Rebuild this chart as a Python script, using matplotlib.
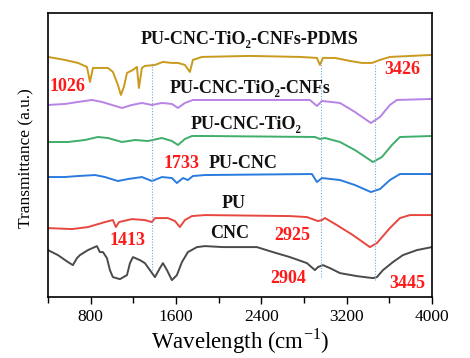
import matplotlib
matplotlib.use("Agg")
import matplotlib.pyplot as plt
from matplotlib.ticker import MultipleLocator

plt.rcParams['font.family'] = ['Liberation Serif', 'DejaVu Serif']
plt.rcParams['mathtext.fontset'] = 'custom'
plt.rcParams['mathtext.rm'] = 'Liberation Serif'

# spectra (wavenumber, transmittance in a.u. with stacking offset)
pdms_x = [400, 559, 681, 766, 794, 822, 869, 962, 1009, 1056, 1084, 1112, 1141, 1197, 1234,
          1253, 1281, 1309, 1403, 1478, 1562, 1619, 1684, 1731, 1759, 1844, 2294, 2762, 2922,
          2950, 2978, 3091, 3231, 3344, 3438, 3512, 3606, 4000]
pdms_y = [243, 240, 237, 233, 218, 232, 232, 232, 228, 215, 205, 213, 227, 230, 233,
          212, 232, 234, 235, 238, 237, 237, 235, 228, 240, 243, 244, 243, 242,
          235, 242, 242, 239, 237, 237, 240, 243, 245]

cnfs_x = [400, 559, 681, 812, 906, 1000, 1094, 1187, 1281, 1375, 1469, 1562, 1619, 1684, 1759,
          1872, 2856, 2922, 2969, 3138, 3278, 3428, 3513, 3606, 3672, 4000]
cnfs_y = [195, 196, 198, 200, 198, 195, 192, 195, 197, 195, 197, 196, 192, 197, 200,
          200, 200, 194, 199, 197, 188, 177, 183, 195, 200, 201]

tio2_x = [400, 588, 747, 869, 962, 1094, 1216, 1337, 1469, 1562, 1619, 1684, 1750, 1872,
          2903, 2950, 2997, 3138, 3278, 3447, 3531, 3625, 3700, 4000]
tio2_y = [158, 158, 160, 163, 162, 158, 160, 159, 162, 159, 155, 161, 164, 164,
          163, 161, 162, 158, 150, 138, 143, 155, 163, 164]

pucnc_x = [400, 559, 681, 841, 934, 1056, 1150, 1281, 1375, 1469, 1562, 1609, 1666, 1712,
           1759, 1872, 2875, 2922, 2969, 3138, 3278, 3428, 3513, 3606, 3700, 4000]
pucnc_y = [123, 123, 124, 125, 123, 119, 121, 123, 119, 123, 122, 117, 122, 120,
           124, 125, 126, 118, 122, 120, 115, 108, 111, 120, 126, 126]

pu_x = [400, 625, 775, 934, 1009, 1037, 1066, 1187, 1309, 1375, 1403, 1525, 1591, 1637,
        1684, 1750, 1872, 2669, 2828, 2931, 2969, 2997, 3109, 3259, 3419, 3484, 3606, 3700,
        3794, 4000]
pu_y = [72, 71, 73, 78, 80, 73, 78, 81, 80, 78, 82, 82, 79, 73,
        80, 84, 85, 84, 83, 79, 80, 82, 75, 65, 53, 57, 72, 82,
        85, 85]

cnc_x = [400, 494, 588, 634, 672, 700, 775, 859, 887, 916, 953, 981, 1009, 1075, 1141,
         1169, 1197, 1262, 1309, 1356, 1403, 1450, 1478, 1516, 1562, 1609, 1656, 1712, 1797,
         1872, 2041, 2359, 2509, 2669, 2828, 2903, 2931, 2978, 3044, 3138, 3297, 3447, 3484,
         3541, 3634, 3728, 3859, 4000]
cnc_y = [50, 45, 38, 35, 42, 45, 50, 54, 48, 48, 42, 30, 23, 21, 25,
         37, 43, 40, 37, 30, 23, 32, 37, 30, 20, 25, 38, 48, 53,
         54, 53, 53, 48, 43, 37, 30, 33, 35, 32, 27, 24, 22, 23,
         30, 38, 45, 50, 53]

# dotted guide lines: position, top, bottom
guide_x = [1375, 2959, 3466]
guide_top = [237, 238, 235]
guide_bottom = [30, 23, 20]

series_labels = ['PU-CNC-TiO₂-CNFs-PDMS', 'PU-CNC-TiO₂-CNFs', 'PU-CNC-TiO₂', 'PU-CNC', 'PU', 'CNC']
label_x = [2294, 2294, 2256, 2225, 2144, 2106]
label_y = [260, 211, 175, 137, 97, 67]

peak_labels = ['1026', '3426', '1733', '1413', '2925', '2904', '3445']
peak_x = [587, 3719, 1650, 1150, 2687, 2650, 3766]
peak_y = [213, 230, 137, 60, 65, 22, 17]

fig = plt.figure(figsize=(4.7, 3.58), dpi=100)
ax = fig.add_axes([0.102, 0.170, 0.817, 0.794])

ax.plot(cnc_x, cnc_y, color='#4a4a4a', lw=1.4)
ax.plot(pu_x, pu_y, color='#e8473f', lw=1.4)
ax.plot(pucnc_x, pucnc_y, color='#2a7be0', lw=1.4)
ax.plot(tio2_x, tio2_y, color='#3fae6a', lw=1.4)
ax.plot(cnfs_x, cnfs_y, color='#b783e6', lw=1.4)
ax.plot(pdms_x, pdms_y, color='#c99a1c', lw=1.4)

for gx, gt, gb in zip(guide_x, guide_top, guide_bottom):
    ax.plot([gx, gx], [gb, gt], color='#6fa8dc', lw=0.8, linestyle=(0, (1, 1.5)))

for s, x, y in zip(series_labels, label_x, label_y):
    ax.text(x, y, s, fontsize=13, fontweight='bold', ha='center', va='center', color='#111111')
for s, x, y in zip(peak_labels, peak_x, peak_y):
    ax.text(x, y, s, fontsize=13, fontweight='bold', ha='center', va='center', color='#ff1a1a')

ax.set_xlim(400, 4000)
ax.set_ylim(3, 287)
ax.xaxis.set_major_locator(MultipleLocator(800))
ax.xaxis.set_minor_locator(MultipleLocator(400))
ax.tick_params(axis='x', which='both', direction='out', labelsize=12.5, length=4, width=1)
ax.tick_params(axis='x', which='major', length=5)
ax.set_yticks([])
for sp in ax.spines.values():
    sp.set_linewidth(1.2)
ax.set_xlabel('Wavelength (cm$^{-1}$)', fontsize=16.5, labelpad=1)
ax.set_ylabel('Transmittance (a.u.)', fontsize=12.5)
ax.yaxis.set_label_coords(-0.035, 0.49)

fig.savefig('out.png', dpi=100)
